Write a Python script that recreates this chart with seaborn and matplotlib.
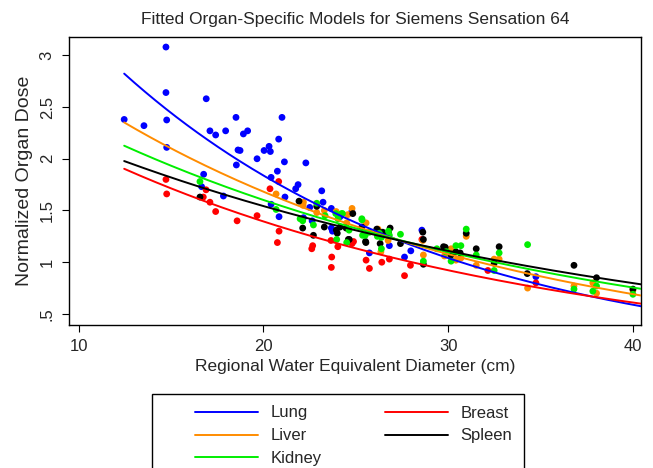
import numpy as np
import pandas as pd
import matplotlib
matplotlib.use("Agg")
import matplotlib.pyplot as plt
import seaborn as sns
from matplotlib.patches import Rectangle
from matplotlib.lines import Line2D

# ---------------- data ----------------
organs = ["Lung", "Liver", "Kidney", "Breast", "Spleen"]
organ_colors = ["#0000FF", "#FF8C00", "#00EE00", "#FF0000", "#000000"]

lung_x = [14.73, 14.73, 14.77, 12.47, 13.54, 14.77, 16.91, 17.11, 17.42, 17.96, 18.52, 18.92,
          19.15, 18.63, 18.54, 16.77, 16.66, 17.84, 21.01, 20.83, 20.31, 20.04, 20.38, 19.66,
          21.14, 22.30, 20.76, 20.42, 21.88, 21.75, 23.16, 21.17, 22.51, 23.23, 23.68, 20.42,
          20.85, 22.17, 22.64, 23.68, 23.74, 24.15, 28.58, 27.98, 27.64, 25.74, 26.82, 24.79,
          34.75, 18.74]
lung_y = [3.08, 2.64, 2.375, 2.38, 2.32, 2.11, 2.58, 2.27, 2.23, 2.27, 2.40, 2.24,
          2.27, 2.085, 1.94, 1.85, 1.73, 1.64, 2.40, 2.19, 2.12, 2.08, 2.07, 2.00,
          1.97, 1.96, 1.88, 1.82, 1.75, 1.71, 1.69, 1.63, 1.53, 1.58, 1.52, 1.56,
          1.44, 1.43, 1.40, 1.33, 1.30, 1.44, 1.31, 1.11, 1.05, 1.09, 1.16, 1.49,
          0.86, 2.08]

breast_x = [14.73, 14.77, 16.90, 16.75, 17.11, 17.42, 18.58, 20.83, 20.36, 19.66, 20.85, 20.76,
            22.67, 22.62, 23.66, 24.03, 23.70, 23.68, 24.88, 24.80, 25.56, 25.74, 26.41, 26.82,
            27.96, 27.64, 32.15, 34.75, 28.58]
breast_y = [1.80, 1.66, 1.70, 1.63, 1.58, 1.49, 1.40, 1.78, 1.71, 1.45, 1.30, 1.19,
            1.16, 1.13, 1.21, 1.15, 1.05, 0.95, 1.20, 1.18, 1.02, 0.94, 1.00, 1.03,
            0.97, 0.87, 0.92, 0.80, 1.22]

liver_x = [20.69, 22.17, 22.15, 23.30, 23.94, 24.57, 24.80, 24.51, 25.56, 26.21, 26.75, 26.36,
           22.89, 28.63, 28.66, 29.80, 30.16, 30.42, 30.69, 30.98, 31.52, 32.49, 32.76, 34.30,
           36.81, 37.83, 38.03, 40.00]
liver_y = [1.66, 1.58, 1.55, 1.50, 1.49, 1.46, 1.52, 1.38, 1.38, 1.32, 1.21, 1.10,
           1.48, 1.21, 1.07, 1.06, 1.13, 1.02, 1.04, 1.25, 0.97, 1.03, 1.03, 0.75,
           0.77, 0.80, 0.70, 0.73]

spleen_x = [16.57, 21.93, 22.89, 22.13, 23.30, 22.71, 23.95, 24.00, 24.60, 24.84, 25.53, 26.17,
            26.77, 24.15, 24.48, 24.65, 25.33, 25.55, 26.14, 26.32, 26.46, 26.86, 27.42, 28.63,
            28.66, 28.66, 29.75, 29.84, 30.16, 30.42, 30.65, 30.98, 31.52, 32.76, 32.49, 34.28,
            36.81, 38.03, 40.00]
spleen_y = [1.63, 1.59, 1.54, 1.33, 1.34, 1.26, 1.31, 1.28, 1.22, 1.47, 1.20, 1.31,
            1.29, 1.34, 1.33, 1.22, 1.34, 1.19, 1.32, 1.18, 1.29, 1.33, 1.18, 1.29,
            1.22, 0.98, 1.15, 1.145, 1.07, 1.10, 1.09, 1.28, 1.13, 1.15, 0.99, 0.89,
            0.97, 0.85, 0.74]

kidney_x = [16.57, 20.69, 22.89, 21.99, 22.13, 22.71, 23.34, 23.97, 24.04, 24.24, 24.51, 23.92,
            24.28, 24.64, 25.34, 25.37, 25.74, 26.17, 26.39, 26.39, 25.33, 25.51, 26.28, 26.77,
            26.82, 27.42, 28.66, 29.39, 29.93, 29.87, 30.16, 30.42, 30.69, 30.98, 31.52, 32.76,
            32.49, 34.30, 36.81, 37.83, 38.03, 40.00]
kidney_y = [1.78, 1.51, 1.57, 1.42, 1.40, 1.36, 1.45, 1.22, 1.42, 1.47, 1.19, 1.47,
            1.47, 1.31, 1.41, 1.26, 1.29, 1.25, 1.13, 1.24, 1.42, 1.26, 1.28, 1.30,
            1.26, 1.27, 1.01, 1.13, 1.10, 1.10, 1.01, 1.16, 1.16, 1.32, 1.07, 1.09,
            0.92, 1.17, 0.74, 0.72, 0.77, 0.69]

# fitted exponential models: dose = a * exp(b * WED)
fit_a = [5.742, 4.093, 3.398, 3.186, 2.984]
fit_b = [-0.05694, -0.04446, -0.0376, -0.04132, -0.03298]
fit_range = (12.47, 40.6)

x_ticks = [10, 20, 30, 40]
y_ticks = [0.5, 1.0, 1.5, 2.0, 2.5, 3.0]
y_tick_labels = [".5", "1", "1.5", "2", "2.5", "3"]

# ---------------- build tables ----------------
pts = pd.concat([
    pd.DataFrame({"organ": "Lung", "wed": lung_x, "dose": lung_y}),
    pd.DataFrame({"organ": "Breast", "wed": breast_x, "dose": breast_y}),
    pd.DataFrame({"organ": "Liver", "wed": liver_x, "dose": liver_y}),
    pd.DataFrame({"organ": "Spleen", "wed": spleen_x, "dose": spleen_y}),
    pd.DataFrame({"organ": "Kidney", "wed": kidney_x, "dose": kidney_y}),
], ignore_index=True)

grid = np.linspace(fit_range[0], fit_range[1], 200)
curves = pd.concat([
    pd.DataFrame({"organ": o, "wed": grid, "dose": a * np.exp(b * grid)})
    for o, a, b in zip(organs, fit_a, fit_b)
], ignore_index=True)

palette = dict(zip(organs, organ_colors))

# ---------------- plot ----------------
sns.set_style("white")
plt.rcParams["font.family"] = ["Liberation Sans", "DejaVu Sans"]

fig = plt.figure(figsize=(6.53, 4.68), dpi=100)
ax = fig.add_axes([0.105, 0.3062, 0.877, 0.6154])

sns.scatterplot(data=pts, x="wed", y="dose", hue="organ", palette=palette,
                s=24, linewidth=0, legend=False, ax=ax, zorder=2)
sns.lineplot(data=curves, x="wed", y="dose", hue="organ", palette=palette,
             linewidth=1.4, legend=False, ax=ax, zorder=3, sort=False)

ax.set_xlim(9.46, 40.45)
ax.set_ylim(0.396, 3.18)
ax.set_xticks(x_ticks)
ax.set_xticklabels([str(t) for t in x_ticks], fontsize=12)
ax.set_yticks(y_ticks)
ax.set_yticklabels(y_tick_labels, fontsize=12, rotation=90, va="center")
ax.tick_params(axis="both", direction="out", length=5, width=0.8, color="black",
               left=True, bottom=True, pad=5)
for sp in ax.spines.values():
    sp.set_visible(True)
    sp.set_color("black")
    sp.set_linewidth(1.0)

ax.set_xlabel("Regional Water Equivalent Diameter (cm)", fontsize=12.5, labelpad=4)
ax.set_ylabel("Normalized Organ Dose", fontsize=14, labelpad=5)
ax.set_title("Fitted Organ-Specific Models for Siemens Sensation 64", fontsize=12.5, pad=9)

# legend box (R style, below the plot)
fig.patches.append(Rectangle((151.7 / 653, 1 - 480 / 468), (524 - 151.7) / 653,
                             (480 - 394.3) / 468, transform=fig.transFigure,
                             fill=False, edgecolor="black", linewidth=1.0, clip_on=False))
handles = [Line2D([0], [0], color=palette[o], linewidth=1.4) for o in organs]
leg = fig.legend(handles, organs, loc="upper left",
                 bbox_to_anchor=(195 / 653, 1 - 405.5 / 468), ncol=2, frameon=False,
                 fontsize=12, handlelength=3.76, handletextpad=0.75, columnspacing=3.85,
                 labelspacing=0.47, borderpad=0, borderaxespad=0)

fig.savefig("out.png", dpi=100)
